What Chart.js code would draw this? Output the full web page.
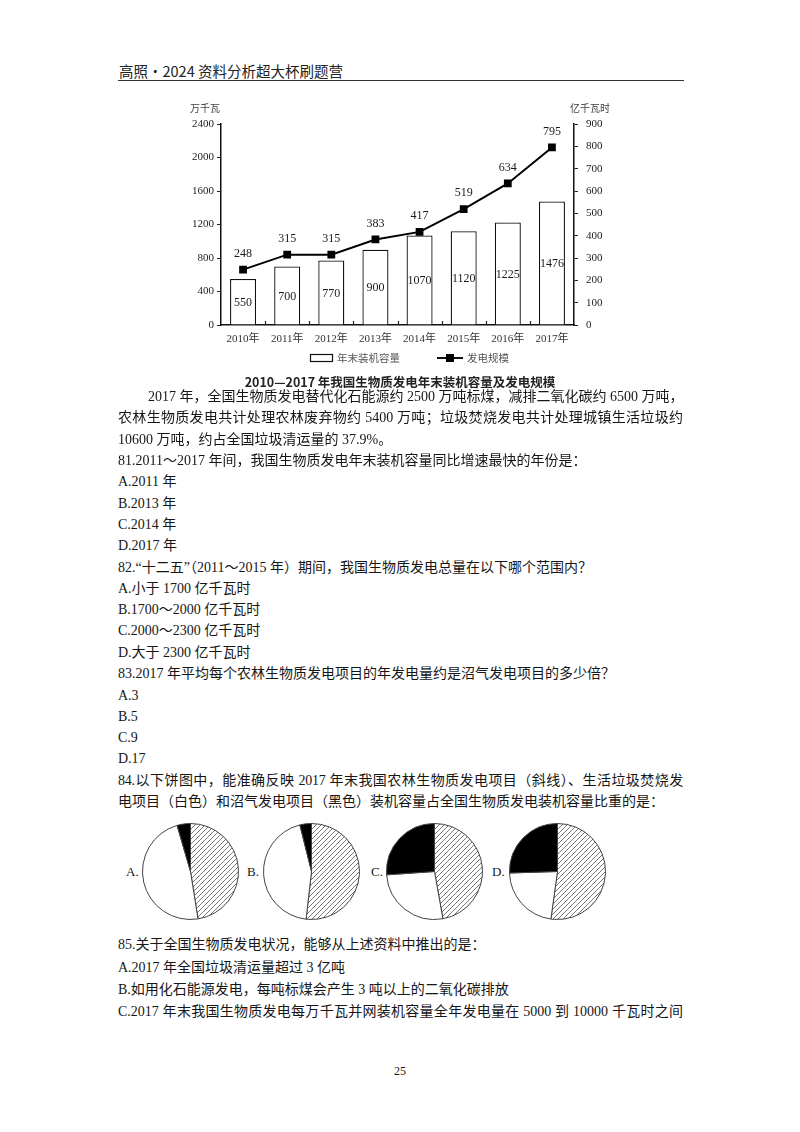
<!DOCTYPE html>
<html>
<head>
<meta charset="utf-8">
<title>生物质发电</title>
<script src="https://cdn.jsdelivr.net/npm/chart.js@4.4.0/dist/chart.umd.min.js"></script>
<style>
body { margin: 0; background: #fff; }
#page { position: relative; width: 800px; height: 1132px; overflow: hidden;
        font-family: "Liberation Serif", "Noto Sans CJK SC", serif; color: #161616; }
.hd { position: absolute; left: 119px; top: 60px; font: 400 14.5px "Noto Sans CJK SC", sans-serif; color: #222; }
.rule { position: absolute; left: 118px; top: 80px; width: 566px; border-top: 1.5px solid #333; }
.ln { position: absolute; left: 118px; font-size: 14px; line-height: 20px; white-space: nowrap; }
.full { width: 565px; text-align: justify; text-align-last: justify; }
#chartBox { position: absolute; left: 170px; top: 93px; width: 460px; height: 300px; }
.pie { position: absolute; width: 97px; height: 97px; }
.pl { position: absolute; font-size: 13px; line-height: 16px; }
.pg { position: absolute; left: 0; width: 800px; top: 1064px; text-align: center; font-size: 12px; }
</style>
</head>
<body>
<div id="page">
  <div class="hd">高照·2024 资料分析超大杯刷题营</div>
  <div class="rule"></div>

  <div id="chartBox"><canvas id="mainChart"></canvas></div>

  <div class="ln full" style="top:387px;padding-left:30px;width:535px;">2017 年，全国生物质发电替代化石能源约 2500 万吨标煤，减排二氧化碳约 6500 万吨，</div>
  <div class="ln full" style="top:408px;">农林生物质发电共计处理农林废弃物约 5400 万吨；垃圾焚烧发电共计处理城镇生活垃圾约</div>
  <div class="ln" style="top:430px;">10600 万吨，约占全国垃圾清运量的 37.9%。</div>
  <div class="ln" style="top:451px;">81.2011～2017 年间，我国生物质发电年末装机容量同比增速最快的年份是：</div>
  <div class="ln" style="top:472px;">A.2011 年</div>
  <div class="ln" style="top:494px;">B.2013 年</div>
  <div class="ln" style="top:515px;">C.2014 年</div>
  <div class="ln" style="top:536px;">D.2017 年</div>
  <div class="ln" style="top:558px;">82.“十二五”（2011～2015 年）期间，我国生物质发电总量在以下哪个范围内？</div>
  <div class="ln" style="top:579px;">A.小于 1700 亿千瓦时</div>
  <div class="ln" style="top:600px;">B.1700～2000 亿千瓦时</div>
  <div class="ln" style="top:621px;">C.2000～2300 亿千瓦时</div>
  <div class="ln" style="top:643px;">D.大于 2300 亿千瓦时</div>
  <div class="ln" style="top:664px;">83.2017 年平均每个农林生物质发电项目的年发电量约是沼气发电项目的多少倍？</div>
  <div class="ln" style="top:686px;">A.3</div>
  <div class="ln" style="top:707px;">B.5</div>
  <div class="ln" style="top:728px;">C.9</div>
  <div class="ln" style="top:749px;">D.17</div>
  <div class="ln full" style="top:771px;letter-spacing:-0.2px;">84.以下饼图中，能准确反映 2017 年末我国农林生物质发电项目（斜线）、生活垃圾焚烧发</div>
  <div class="ln" style="top:792px;">电项目（白色）和沼气发电项目（黑色）装机容量占全国生物质发电装机容量比重的是：</div>

  <div class="pl" style="left:126px;top:864px;">A.</div>
  <div class="pl" style="left:247px;top:864px;">B.</div>
  <div class="pl" style="left:371px;top:864px;">C.</div>
  <div class="pl" style="left:492px;top:864px;">D.</div>
  <div class="pie" style="left:142px;top:823px;"><canvas id="pieA"></canvas></div>
  <div class="pie" style="left:263px;top:823px;"><canvas id="pieB"></canvas></div>
  <div class="pie" style="left:386px;top:823px;"><canvas id="pieC"></canvas></div>
  <div class="pie" style="left:509px;top:823px;"><canvas id="pieD"></canvas></div>

  <div class="ln" style="top:935px;">85.关于全国生物质发电状况，能够从上述资料中推出的是：</div>
  <div class="ln" style="top:958px;">A.2017 年全国垃圾清运量超过 3 亿吨</div>
  <div class="ln" style="top:980px;">B.如用化石能源发电，每吨标煤会产生 3 吨以上的二氧化碳排放</div>
  <div class="ln full" style="top:1002px;">C.2017 年末我国生物质发电每万千瓦并网装机容量全年发电量在 5000 到 10000 千瓦时之间</div>

  <div class="pg">25</div>
</div>

<script>
// chart data
const years = ['2010年', '2011年', '2012年', '2013年', '2014年', '2015年', '2016年', '2017年'];
const capacity = [550, 700, 770, 900, 1070, 1120, 1225, 1476];     // 万千瓦
const generation = [248, 315, 315, 383, 417, 519, 634, 795];       // 亿千瓦时
const seriesNames = ['年末装机容量', '发电规模'];
const leftUnit = '万千瓦';
const rightUnit = '亿千瓦时';
const chartTitle = '2010—2017 年我国生物质发电年末装机容量及发电规模';

// pie shares, clockwise from top: 斜线, 白色, 黑色 (%)
const pieA = [47.5, 48.0, 4.5];
const pieB = [51.8, 44.3, 3.9];
const pieC = [47.2, 26.7, 26.1];
const pieD = [52.2, 22.3, 25.5];

const serif = '"Liberation Serif", "Noto Sans CJK SC", serif';

// value labels + legend + unit labels + inward x ticks
const decorPlugin = {
    id: 'decor',
    afterDatasetsDraw(chart) {
        const ctx = chart.ctx;
        const area = chart.chartArea;
        ctx.save();
        ctx.fillStyle = '#1a1a1a';
        ctx.font = '12px ' + serif;
        ctx.textAlign = 'center';
        ctx.textBaseline = 'middle';

        chart.getDatasetMeta(0).data.forEach((bar, i) => {
            ctx.fillText(capacity[i], bar.x, (bar.y + bar.base) / 2 + 1);
        });
        chart.getDatasetMeta(1).data.forEach((pt, i) => {
            ctx.fillText(generation[i], pt.x, pt.y - 16);
        });

        // small ticks between categories, pointing up
        const x = chart.scales.x;
        ctx.strokeStyle = '#222';
        ctx.lineWidth = 1.2;
        for (let i = 1; i < years.length; i++) {
            const px = Math.round((x.getPixelForValue(i - 1) + x.getPixelForValue(i)) / 2) + 0.5;
            ctx.beginPath();
            ctx.moveTo(px, area.bottom);
            ctx.lineTo(px, area.bottom - 4);
            ctx.stroke();
        }

        // unit labels
        ctx.font = '10px "Noto Sans CJK SC", sans-serif';
        ctx.fillStyle = '#444';
        ctx.textAlign = 'right';
        ctx.fillText(leftUnit, area.left - 1, area.top - 16);
        ctx.textAlign = 'left';
        ctx.fillText(rightUnit, area.right - 4, area.top - 16);

        // legend
        const ly = area.bottom + 33;
        let lx = area.left + 89;
        ctx.strokeStyle = '#111';
        ctx.lineWidth = 1.2;
        ctx.strokeRect(lx + 0.5, ly - 3.5, 22, 7);
        lx += 27;
        ctx.font = '10.5px "Noto Sans CJK SC", sans-serif';
        ctx.fillStyle = '#555';
        ctx.fillText(seriesNames[0], lx, ly);
        lx += ctx.measureText(seriesNames[0]).width + 37;
        ctx.lineWidth = 2;
        ctx.beginPath();
        ctx.moveTo(lx, ly);
        ctx.lineTo(lx + 26, ly);
        ctx.stroke();
        ctx.fillStyle = '#000';
        ctx.fillRect(lx + 9, ly - 4, 8, 8);
        lx += 30;
        ctx.fillStyle = '#555';
        ctx.fillText(seriesNames[1], lx, ly);
        ctx.restore();
    }
};

const plainTick = (v) => String(v);

new Chart(document.getElementById('mainChart'), {
    type: 'bar',
    data: {
        labels: years,
        datasets: [
            {
                type: 'bar',
                label: seriesNames[0],
                data: capacity,
                yAxisID: 'y',
                backgroundColor: '#fff',
                borderColor: '#111',
                borderWidth: 1.3,
                barPercentage: 0.59,
                categoryPercentage: 1,
                order: 2
            },
            {
                type: 'line',
                label: seriesNames[1],
                data: generation,
                yAxisID: 'y1',
                borderColor: '#000',
                borderWidth: 2,
                pointStyle: 'rect',
                pointRadius: 5.5,
                pointBackgroundColor: '#000',
                pointBorderWidth: 0,
                tension: 0,
                order: 1
            }
        ]
    },
    options: {
        responsive: true,
        maintainAspectRatio: false,
        animation: false,
        layout: { padding: { top: 31, left: 0, right: 0, bottom: 0 } },
        plugins: {
            legend: { display: false },
            tooltip: { enabled: false },
            title: {
                display: true,
                position: 'bottom',
                text: chartTitle,
                color: '#222',
                font: { family: '"Noto Sans CJK SC", sans-serif', size: 12.5, weight: 'bold' },
                padding: { top: 5, bottom: 3 }
            }
        },
        scales: {
            x: {
                grid: { display: false, drawTicks: false },
                border: { display: true, color: '#111', width: 1.5 },
                ticks: { color: '#333', padding: 8, font: { family: serif, size: 11 }, maxRotation: 0 },
                afterFit: (s) => { s.height = 45; }
            },
            y: {
                position: 'left',
                min: 0,
                max: 2400,
                ticks: { stepSize: 400, callback: plainTick, color: '#222', padding: 3, font: { family: serif, size: 11 } },
                grid: { drawOnChartArea: false, drawTicks: true, tickLength: 4, color: '#222', lineWidth: 1 },
                border: { color: '#111', width: 1.5 },
                afterFit: (s) => { s.width = 51; }
            },
            y1: {
                position: 'right',
                min: 0,
                max: 900,
                ticks: { stepSize: 100, callback: plainTick, color: '#222', padding: 8, font: { family: serif, size: 11 } },
                grid: { drawOnChartArea: false, drawTicks: true, tickLength: 4, color: '#222', lineWidth: 1 },
                border: { color: '#111', width: 1.5 },
                afterFit: (s) => { s.width = 56; }
            }
        }
    },
    plugins: [decorPlugin]
});

// hatch pattern for 斜线
function makeHatch() {
    const c = document.createElement('canvas');
    c.width = 5;
    c.height = 5;
    const g = c.getContext('2d');
    g.strokeStyle = '#555';
    g.lineWidth = 0.8;
    g.beginPath();
    g.moveTo(0, 5); g.lineTo(5, 0);
    g.moveTo(-1, 1); g.lineTo(1, -1);
    g.moveTo(4, 6); g.lineTo(6, 4);
    g.stroke();
    return g.createPattern(c, 'repeat');
}
const hatch = makeHatch();

function drawPie(id, values) {
    new Chart(document.getElementById(id), {
        type: 'pie',
        data: {
            labels: ['斜线', '白色', '黑色'],
            datasets: [{
                data: values,
                backgroundColor: [hatch, '#fff', '#000'],
                borderColor: '#444',
                borderWidth: 1
            }]
        },
        options: {
            responsive: true,
            maintainAspectRatio: false,
            animation: false,
            events: [],
            plugins: { legend: { display: false }, tooltip: { enabled: false } }
        }
    });
}
drawPie('pieA', pieA);
drawPie('pieB', pieB);
drawPie('pieC', pieC);
drawPie('pieD', pieD);
</script>
</body>
</html>
